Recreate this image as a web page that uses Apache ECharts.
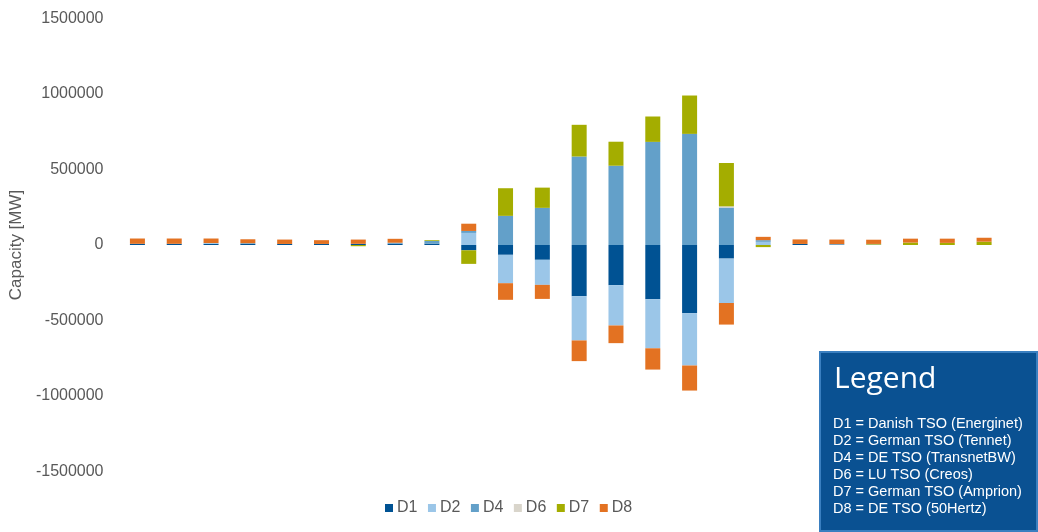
<!DOCTYPE html>
<html>
<head>
<meta charset="utf-8">
<script src="https://cdn.jsdelivr.net/npm/echarts@6/dist/echarts.min.js"></script>
<style>
html,body{margin:0;padding:0;background:#fff;}
#chart{width:1038px;height:532px;}
</style>
</head>
<body>
<div id="chart"></div>
<script>
var categories = ['1','2','3','4','5','6','7','8','9','10','11','12','13','14','15','16','17','18','19','20','21','22','23','24'];
var seriesNames = ['D1','D2','D4','D6','D7','D8'];
var d1 = [8000,8000,8000,7000,7000,7000,8000,9000,9000,-35000,-65000,-98000,-339000,-266000,-359000,-452000,-90000,0,7000,0,0,0,0,0];
var d2 = [0,0,5000,0,0,0,0,0,0,80000,-188000,-166000,-293000,-267000,-325000,-346000,-294000,21000,0,0,0,0,0,0];
var d4 = [0,0,0,5000,0,0,0,6000,18000,13000,193000,246000,586000,525000,683000,736000,248000,11000,0,6000,3000,0,0,0];
var d6 = [0,0,0,0,0,0,0,0,0,0,0,0,0,0,0,0,8000,0,0,0,0,0,0,0];
var d7 = [0,0,0,0,0,0,-8000,0,5000,-90000,183000,134000,210000,159000,168000,254000,287000,-14000,0,0,4000,16000,14000,22000];
var d8 = [35000,35000,30000,26000,29000,25000,28000,26000,0,48000,-110000,-93000,-137000,-117000,-141000,-166000,-143000,22000,30000,30000,28000,26000,28000,26000];
var yTicks = {min:-1500000, max:1500000, interval:500000};
var legendLines = [
  'D1 = Danish TSO (Energinet)',
  'D2 = German TSO (Tennet)',
  'D4 = DE TSO (TransnetBW)',
  'D6 = LU TSO (Creos)',
  'D7 = German TSO (Amprion)',
  'D8 = DE TSO (50Hertz)'
];
var colors = ['#005293','#9bc6e8','#63a0c9','#d9d5cb','#a4ad00','#e37222'];
var values = [d1,d2,d4,d6,d7,d8];
var FONT = '"Liberation Sans", Arial, sans-serif';

var chart = echarts.init(document.getElementById('chart'), null, {renderer:'canvas'});
var series = seriesNames.map(function(n,i){
  return {
    name:n, type:'bar', stack:'total', data:values[i], barWidth:15,
    itemStyle:{color:colors[i]}, emphasis:{disabled:true}
  };
});
var graphics = [
  {type:'rect', left:819, top:351, shape:{width:217, height:179},
   style:{fill:'#0a5192', stroke:'#3a7fc0', lineWidth:2}, z:100},
  {type:'text', left:834, top:364, style:{text:'Legend', fill:'#ffffff', font:'30px "Open Sans", "Liberation Sans", sans-serif'}, z:101}
];
legendLines.forEach(function(t,i){
  graphics.push({type:'text', left:833, top:416 + i*17, style:{text:t, fill:'#ffffff', font:'14.5px ' + FONT}, z:101});
});
chart.setOption({
  animation:false,
  color:colors,
  grid:{left:114.5, right:35.5, top:18.5, bottom:60.5, containLabel:false},
  legend:{
    data:seriesNames, bottom:11, left:380, icon:'rect', itemWidth:8, itemHeight:8, itemGap:10.5,
    textStyle:{color:'#595959', fontSize:16, fontFamily:FONT, padding:[0,0,0,-1]},
    selectedMode:false
  },
  xAxis:{
    type:'category', data:categories,
    axisLine:{show:false}, axisTick:{show:false}, axisLabel:{show:false}, splitLine:{show:false}
  },
  yAxis:{
    type:'value', min:yTicks.min, max:yTicks.max, interval:yTicks.interval,
    name:'Capacity [MW]', nameLocation:'middle', nameGap:82, nameRotate:90,
    nameTextStyle:{color:'#595959', fontSize:17, fontFamily:FONT},
    axisLine:{show:false}, axisTick:{show:false}, splitLine:{show:false},
    axisLabel:{color:'#595959', fontSize:16, margin:15.5, fontFamily:FONT,
      formatter:function(v){ return String(v); }}
  },
  series:series,
  graphic:graphics
});
</script>
</body>
</html>
